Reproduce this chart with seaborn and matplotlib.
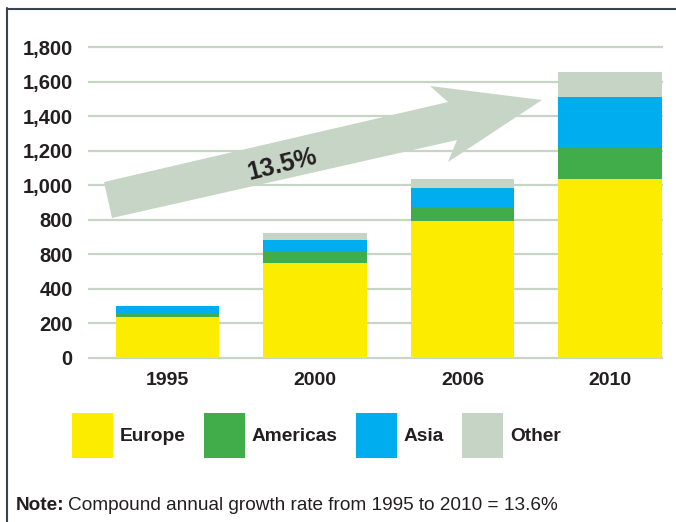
import matplotlib
matplotlib.use("Agg")
import matplotlib.pyplot as plt
import seaborn as sns
import pandas as pd
from matplotlib.patches import Polygon, Patch
from matplotlib.lines import Line2D

# ---- data ----
years = ["1995", "2000", "2006", "2010"]
europe = [240, 550, 795, 1040]
americas = [18, 65, 80, 185]
asia = [42, 70, 110, 290]
other = [0, 40, 52, 140]
series = ["Europe", "Americas", "Asia", "Other"]
colors = ["#fcec00", "#40ad4a", "#00aeef", "#c5d4c4"]
ytick_vals = [0, 200, 400, 600, 800, 1000, 1200, 1400, 1600, 1800]
ytick_labels = ["0", "200", "400", "800", "800", "1,000", "1,200", "1,400", "1,600", "1,800"]
arrow_label = "13.5%"
note_bold = "Note:"
note_text = "Compound annual growth rate from 1995 to 2010 = 13.6%"

sns.set_theme(style="white")
plt.rcParams["font.family"] = ["Liberation Sans", "DejaVu Sans"]
TXT = "#231f20"

W, H = 676, 522
fig = plt.figure(figsize=(W / 100, H / 100), dpi=100)
ax = fig.add_axes([88 / W, 1 - 359.7 / H, 575 / W, (359.7 - 42.2) / H])


def fp(x, y):
    return (x / W, 1 - y / H)


# long-form table with stacked tops
rows = []
values = [europe, americas, asia, other]
for i, yr in enumerate(years):
    cum = 0
    for s, vals in zip(series, values):
        cum += vals[i]
        rows.append({"year": yr, "series": s, "top": cum})
df = pd.DataFrame(rows)

for s, c in reversed(list(zip(series, colors))):
    sub = df[df["series"] == s]
    sns.barplot(data=sub, x="year", y="top", order=years, color=c,
                saturation=1, width=0.7, errorbar=None, ax=ax,
                linewidth=0, zorder=3)

ax.set_xlim(-0.54, 3.36)
ax.set_ylim(-10, 1830)
ax.set_yticks(ytick_vals)
ax.set_yticklabels(ytick_labels)
ax.yaxis.grid(True, color="#c6d5c5", linewidth=1.6)
ax.set_axisbelow(True)
ax.tick_params(axis="y", length=0, pad=11, labelsize=14.5, labelcolor=TXT)
ax.tick_params(axis="x", length=0, pad=9, labelsize=14, labelcolor=TXT)
for lab in ax.get_xticklabels() + ax.get_yticklabels():
    lab.set_fontweight("bold")
ax.set_xlabel("")
ax.set_ylabel("")
for sp in ax.spines.values():
    sp.set_visible(False)

# growth arrow
pts = [fp(104, 182), fp(448, 102), fp(430, 86), fp(542, 100),
       fp(448, 162), fp(457, 140), fp(112, 218)]
fig.add_artist(Polygon(pts, closed=True, transform=fig.transFigure,
                       facecolor="#c6d5c5", edgecolor="none", zorder=5))
tx, ty = fp(282, 165)
fig.text(tx, ty, arrow_label, rotation=14, ha="center", va="center",
         fontsize=18, fontweight="bold", color=TXT, zorder=6)

# legend
handles = [Patch(facecolor=c, edgecolor="none", label=s) for s, c in zip(series, colors)]
lx, ly = fp(72, 435.5)
fig.legend(handles=handles, loc="center left", bbox_to_anchor=(lx, ly),
           ncol=4, frameon=False, borderpad=0, borderaxespad=0,
           handlelength=2.14, handleheight=3.23, handletextpad=0.36,
           columnspacing=0.95, prop={"weight": "bold", "size": 13.8})
for t in fig.legends[0].get_texts():
    t.set_color(TXT)

# frame lines
fig.add_artist(Line2D([7 / W, 7 / W], [0, 1 - 8 / H], transform=fig.transFigure,
                      color="#3a4450", linewidth=1.5))
fig.add_artist(Line2D([7 / W, 1], [1 - 8.5 / H, 1 - 8.5 / H], transform=fig.transFigure,
                      color="#3a4450", linewidth=1.5))

# note
nx, ny = fp(16, 505)
t1 = fig.text(nx, ny, note_bold, fontsize=13.7, fontweight="bold", va="center", color=TXT)
r = fig.canvas.get_renderer()
bb = t1.get_window_extent(renderer=r)
fig.text((bb.x1 + 4) / W, ny, note_text, fontsize=13.7, va="center", color=TXT)

fig.savefig("out.png", dpi=100)
